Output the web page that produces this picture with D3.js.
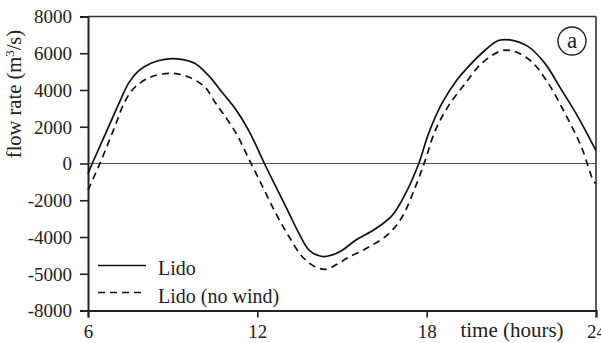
<!DOCTYPE html>
<html><head><meta charset="utf-8">
<script src="https://cdn.jsdelivr.net/npm/d3@7"></script>
<style>
body{margin:0;background:#fff;}
svg text{font-family:"Liberation Serif","Tinos","Times New Roman","DejaVu Serif",serif !important;fill:#222;}
</style></head>
<body><svg id="c" width="601" height="343"></svg>
<script>
const lidoT = [6.0,6.15,6.7,7.15,7.45,7.8,8.25,8.72,9.31,9.78,10.25,10.78,11.25,11.72,12.25,12.66,13.13,13.48,13.84,14.3,14.6,15.0,15.48,16.19,16.78,17.25,17.72,18.07,18.54,19.07,19.37,19.95,20.54,20.95,21.6,22.19,22.78,23.36,24.0];
const lidoV = [-550,0,1900,3450,4400,5050,5470,5670,5670,5450,4820,3820,2910,1720,0,-1275,-2730,-3820,-4730,-5060,-5000,-4730,-4180,-3550,-2820,-1640,0,1640,3270,4540,5090,6000,6690,6725,6360,5450,4000,2540,700];
const noWindT = [6.0,6.42,6.95,7.3,7.66,8.25,8.95,9.54,10.13,10.49,10.78,11.25,11.72,12.19,12.66,13.13,13.6,14.07,14.45,14.8,15.25,15.95,16.66,17.13,17.6,17.95,18.31,18.78,19.37,19.95,20.66,21.13,21.72,22.31,22.9,23.48,23.9,24.0];
const noWindV = [-1450,0,2000,3350,4150,4720,4910,4720,4180,3360,2730,1640,180,-1275,-2730,-4000,-5090,-5640,-5760,-5500,-5090,-4550,-3820,-2910,-1275,180,1820,3150,4360,5450,6140,6090,5540,4360,2730,910,-910,-1100];
const xTicks = [6,12,18,24];
const yTicks = [8000,6000,4000,2000,0,-2000,-4000,-6000,-8000];
const yTickLabels = ["8000","6000","4000","2000","0","-2000","-4000","-5000","-8000"];
const seriesNames = ["Lido","Lido (no wind)"];

const svg = d3.select("#c");
const L=88, R=596, T=16.5, B=310.5;
const x = d3.scaleLinear().domain([6,24]).range([L,R]);
const y = d3.scaleLinear().domain([-8000,8000]).range([B,T]);

svg.append("line").attr("x1",L).attr("x2",R).attr("y1",y(0)).attr("y2",y(0))
  .attr("stroke","#555").attr("stroke-width",1);

svg.append("line").attr("x1",L).attr("x2",R).attr("y1",T).attr("y2",T).attr("stroke","#333").attr("stroke-width",1.6);
svg.append("line").attr("x1",R).attr("x2",R).attr("y1",T).attr("y2",B).attr("stroke","#333").attr("stroke-width",1.6);

const yAxis = d3.axisLeft(y).tickValues(yTicks).tickSize(8).tickFormat((d,i)=>yTickLabels[i]);
const gy = svg.append("g").attr("transform",`translate(${L},0)`).call(yAxis);
gy.attr("font-family",null);
gy.select(".domain").attr("stroke","#222").attr("stroke-width",2);
gy.selectAll(".tick line").attr("stroke","#222").attr("stroke-width",1.6);
gy.selectAll(".tick text").attr("font-size",19).attr("x",-16).attr("dy","0.34em");

const xAxis = d3.axisBottom(x).tickValues(xTicks).tickSize(7).tickFormat(d3.format("d"));
const gx = svg.append("g").attr("transform",`translate(0,${B})`).call(xAxis);
gx.attr("font-family",null);
gx.select(".domain").attr("stroke","#222").attr("stroke-width",2);
gx.selectAll(".tick line").attr("stroke","#222").attr("stroke-width",1.6);
gx.selectAll(".tick text").attr("font-size",19).attr("y",14).attr("dy","0.71em");

svg.append("text").attr("transform","translate(21,94) rotate(-90)").attr("text-anchor","middle")
  .attr("font-size",20.5).html('flow rate (m<tspan dy="-7" font-size="13">3</tspan><tspan dy="7">/s)</tspan>');
svg.append("text").attr("x",512).attr("y",337).attr("text-anchor","middle").attr("font-size",21).text("time (hours)");

const line = d3.line().x(d=>x(d[0])).y(d=>y(d[1])).curve(d3.curveCatmullRom.alpha(0.5));
const s1 = lidoT.map((t,i)=>[t,lidoV[i]]);
const s2 = noWindT.map((t,i)=>[t,noWindV[i]]);
svg.append("path").datum(s1).attr("d",line).attr("fill","none").attr("stroke","#111").attr("stroke-width",1.7);
svg.append("path").datum(s2).attr("d",line).attr("fill","none").attr("stroke","#111").attr("stroke-width",1.7).attr("stroke-dasharray","7,5");

const leg = svg.append("g");
[[265.5,null,275],[292.5,"7,5",303]].forEach((p,i)=>{
  leg.append("line").attr("x1",98).attr("x2",146).attr("y1",p[0]).attr("y2",p[0])
    .attr("stroke","#111").attr("stroke-width",1.7).attr("stroke-dasharray",p[1]);
  leg.append("text").attr("x",158).attr("y",p[2]).attr("font-size",20).text(seriesNames[i]);
});

svg.append("circle").attr("cx",572).attr("cy",41).attr("r",14).attr("fill","#fff").attr("stroke","#222").attr("stroke-width",1.4);
svg.append("text").attr("x",572).attr("y",48).attr("text-anchor","middle").attr("font-size",23).text("a");
</script></body></html>
